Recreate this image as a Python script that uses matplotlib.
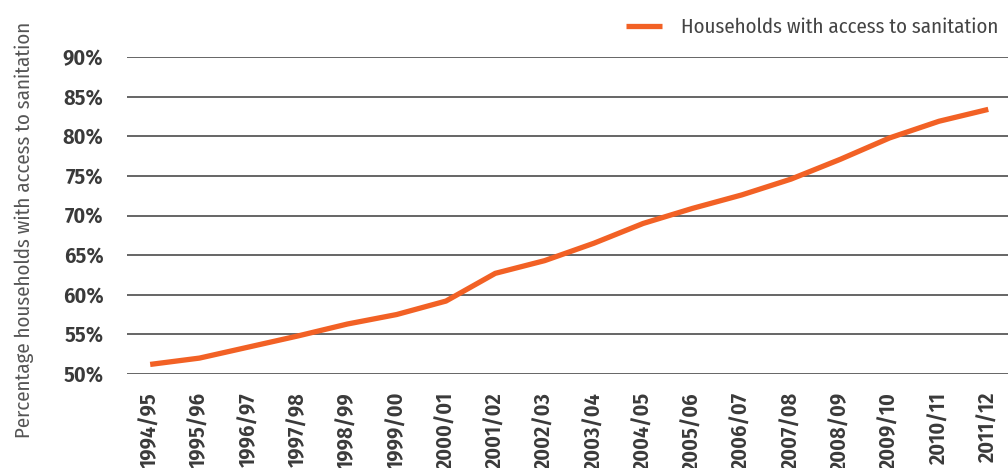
import matplotlib
matplotlib.use("Agg")
import matplotlib.pyplot as plt
from matplotlib import font_manager

years = ["1994/95", "1995/96", "1996/97", "1997/98", "1998/99", "1999/00",
         "2000/01", "2001/02", "2002/03", "2003/04", "2004/05", "2005/06",
         "2006/07", "2007/08", "2008/09", "2009/10", "2010/11", "2011/12"]
sanitation = [51.2, 52.0, 53.4, 54.8, 56.3, 57.5, 59.2, 62.7, 64.3, 66.5,
              69.0, 70.9, 72.6, 74.6, 77.1, 79.8, 81.9, 83.4]
yticks = [50, 55, 60, 65, 70, 75, 80, 85, 90]
series_name = "Households with access to sanitation"
ylabel = "Percentage households with access to sanitation"

names = {f.name for f in font_manager.fontManager.ttflist}
prefs = ["Avenir Next Condensed", "Fira Sans Condensed", "Roboto Condensed",
         "IBM Plex Sans Condensed", "Open Sans Condensed", "Barlow Semi Condensed",
         "Liberation Sans Narrow", "DejaVu Sans"]
fam = next((p for p in prefs if p in names), "DejaVu Sans")
plt.rcParams['font.family'] = [fam, 'DejaVu Sans']

fig = plt.figure(figsize=(10.08, 4.68), dpi=100)
ax = fig.add_axes([0.126, 0.201, 0.874, 0.677])

x = list(range(len(years)))
ax.plot(x, sanitation, color="#F26125", lw=3.8, solid_capstyle="butt",
        label=series_name, zorder=3)

ax.set_ylim(50, 90)
ax.set_xlim(-0.47, 17.4)
ax.set_yticks(yticks)
ax.set_yticklabels([f"{v}%" for v in yticks], fontsize=16, fontweight="semibold", color="#3a3a3a")
ax.set_xticks(x)
ax.set_xticklabels(years, rotation=90, fontsize=16, fontweight="semibold", color="#3a3a3a")
ax.tick_params(axis="y", length=0, pad=17)
ax.tick_params(axis="x", length=0, pad=13)
ax.grid(axis="y", color="#3c3c3c", lw=1.1)
ax.set_axisbelow(True)
for s in ax.spines.values():
    s.set_visible(False)

fig.text(0.024, 0.508, ylabel, rotation=90, fontsize=15, color="#555555",
         ha="center", va="center")

leg = fig.legend(loc="center right", bbox_to_anchor=(0.99, 0.942), frameon=False,
                 fontsize=15, handlelength=1.7, handletextpad=0.9,
                 borderpad=0, borderaxespad=0)
for t in leg.get_texts():
    t.set_color("#444444")

fig.savefig("out.png", dpi=100)
